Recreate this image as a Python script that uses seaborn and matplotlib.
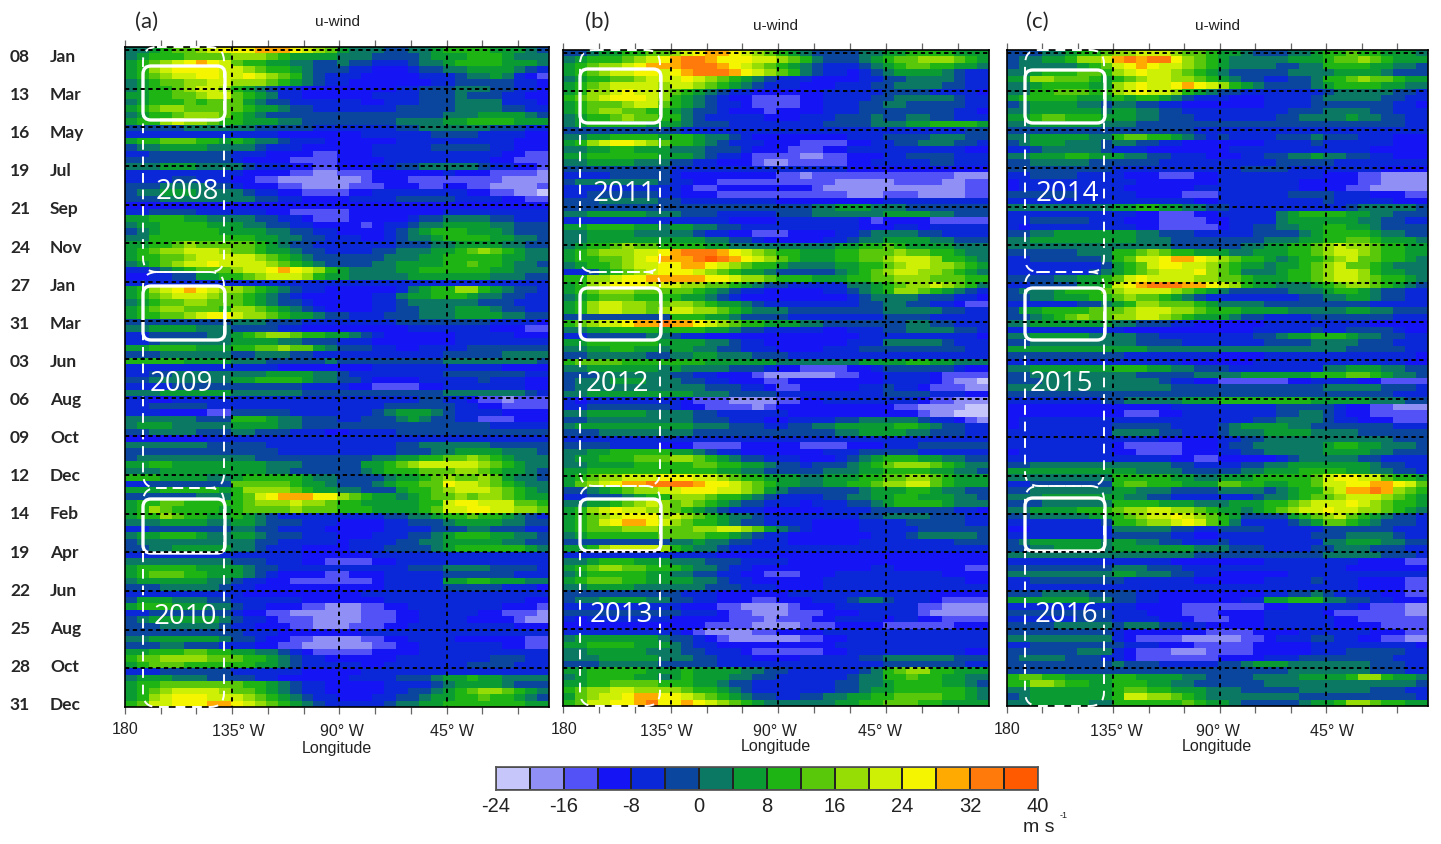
#!/usr/bin/env python3
"""Time-longitude u-wind sections for 2008-2016, three panels and a shared colour bar."""
import matplotlib

matplotlib.use("Agg")
import matplotlib.pyplot as plt  # noqa: E402
import numpy as np  # noqa: E402
import seaborn as sns  # noqa: E402
from matplotlib.colors import ListedColormap  # noqa: E402
from matplotlib.patches import FancyBboxPatch  # noqa: E402

W, H = 1441, 844

DAYS = ["08", "13", "16", "19", "21", "24", "27", "31", "03", "06", "09", "12",
        "14", "19", "22", "25", "28", "31"]
MONTHS = ["Jan", "Mar", "May", "Jul", "Sep", "Nov", "Jan", "Mar", "Jun", "Aug", "Oct", "Dec",
          "Feb", "Apr", "Jun", "Aug", "Oct", "Dec"]
LEVELS = [-24, -16, -8, 0, 8, 16, 24, 32, 40]
BAND_COLORS = ["#c6c6fb", "#8f8ff6", "#5252f6", "#1414f4", "#0a28d8", "#0a469e", "#0a7862", "#0a9b32",
               "#1eb414", "#5ac80a", "#96dc05", "#cdf005", "#f5f500", "#ffaa00", "#ff7a0a", "#ff5a00"]

# each character is one 4 m/s colour band (0 = -24..-20, f = 36..40), read row by row
PANEL_A = [
    "667899abc ccdddcba9 766655667 888877765", "678889999 aaa987777 666555567 778887666", "789abcdcb 988776655 655444566 788887776",
    "78abccccb ba9887655 544333455 667777654", "789abbccb bcba98654 443333344 456676432", "67899aabb aaa987654 433333334 455555443",
    "67889abba 876544333 333334455 566655443", "778899abb 987644333 333444455 565554433", "678889899 976554444 443344455 566664443",
    "789aa9999 987765544 444445555 566665544", "67889aaa9 876555555 555555555 666777765", "788abaa98 877766555 555556666 778888777",
    "555556666 665555544 444445566 666655544", "444444444 444433333 334444445 555444433", "788999887 876654443 333334444 444444333",
    "566777766 665444333 333444445 555544333", "445555555 444333322 333444444 444443322", "555555555 433332222 333344444 444433222",
    "666777666 654443322 333445566 666544332", "444444444 433332211 222333333 433322221", "444455444 332211111 112333222 222221111",
    "555666655 433322111 122233322 332211112", "566777666 654433222 233444444 443322110", "555666666 665544333 344445555 544443322",
    "333333333 333333333 333333333 333333333", "445555444 444332222 233333333 444444444", "778887766 665544322 233333455 666655444",
    "677888877 766554433 332344566 777766555", "567888887 777665544 333345678 887776555", "668888888 887766554 443345667 888877665",
    "77889a999 998765544 444445556 677776655", "789aabbba 998776554 444556667 789a98766", "78899abbb bba987655 555566677 888887766",
    "6789abbcb bbba98765 555667777 889887665", "445678999 abbcdcba8 766667788 888877666", "334455778 89abbba87 766666777 777766655",
    "444444444 444444444 444444444 444444444", "78abcdcba a98765443 333334678 8aa876554", "789abbba9 987654333 333446778 887665544",
    "67899aa99 987655433 333445666 666555444", "789aa9998 aa9876543 333445566 677765544", "78899abcc baa987765 544455566 677776655",
    "555555555 666555444 444445555 555544443", "667777666 555544333 333333444 444433322", "445555566 789aa9887 765433333 344444333",
    "445666666 777766555 444333333 344444444", "778888777 8899a9976 555443344 445555555", "555666666 556665544 444444444 555556666",
    "888887777 666555556 555555555 666666665", "444444444 444433333 333444444 444443333", "445566666 666777766 544444444 555555544",
    "556666666 778888766 554333344 444544433", "444455555 555555444 433222233 444444433", "666777777 666666555 555555555 666666654",
    "443344444 444444444 444444455 443221222", "445555544 444444444 444455555 544332222", "444333322 555554444 444567776 544443333",
    "666666555 888766555 445556765 544222333", "677766666 777766555 555555555 555544444", "556666555 665554443 344445555 555555555",
    "333333344 444444444 444444444 444444444", "666666655 555444444 444445566 666655555", "555555555 555544444 444445556 677776665",
    "566666666 665555555 555667788 99a987666", "778877777 777666555 557789abb bbba98766", "666777777 777665555 556788899 9aa987765",
    "888777766 788888766 555567789 a99a97665", "445555555 999998776 555678899 cbba98766", "777888887 8aaaa9877 665557889 abbba9876",
    "555555666 89bcdddcc a98776789 9a9aa9877", "788998888 89aaabaa9 887777788 bccbbb998", "78a988887 89999a999 888777789 bbccbbaa9",
    "788a98877 876544444 444455667 889887654", "666777766 776555444 333344555 677776655", "445555555 665544443 333344445 556655544",
    "677888766 776555444 333444556 788877665", "566666666 665544444 344445566 777776655", "556677777 665444333 344455556 788888876",
    "444444444 444444333 333444444 444444444", "666666666 555444332 222334444 444444444", "788888777 765544444 444444555 666655554",
    "789998877 765433332 233344444 555555444", "677777766 544332222 222344444 778877766", "555666665 443333333 333344444 555554443",
    "444444444 433333333 334444444 444444444", "577766655 444444333 333344444 444444433", "788877766 544333221 112233444 444443332",
    "445555555 433221111 112223344 444332221", "567777776 544322211 112223344 443333211", "555666665 443332211 122233444 444444333",
    "555555555 544433333 334444444 444444444", "667777776 554332211 112233444 433333322", "555665554 443322111 111223344 444443322",
    "778889988 776654322 222333344 444444444", "899aaaa99 988765443 333334444 444455544", "789998888 887765444 443344444 445555444",
    "444555555 444444333 334444444 444444444", "677766655 554433333 344445556 778776666", "788999999 988765443 333344445 677776555",
    "789abbbba 998765443 333344556 789aa9876", "78abcccbb ba9876544 333445567 788988765", "89bbcccdd cba987654 444456677 888888877",
]
PANEL_B = [
    "556778899 abcddcba9 876555566 778888777", "678889abc deedcccbb a98655567 899aaa987", "789aabcdd deeedcba9 876544456 789988776",
    "789abbccb cdeeedcba 986544345 677776544", "678899abb bcba98765 444333344 556666544", "789abbbba bba987654 443334445 566665544",
    "78aabcbba 987654433 333344444 555544443", "89abcccba 876543322 223344445 566666544", "78999abb9 876544322 223344455 665555544",
    "789aa9988 765543332 333344455 555555443", "67889a998 865444443 334445556 556655444", "678888877 765554444 444455556 667788887",
    "555555555 544444444 444444444 444444455", "667788887 887665433 333333444 555566655", "78abccba9 887654443 332222334 455666554",
    "667788777 666555433 322233444 444444433", "778888887 776544322 221122333 445555444", "667777666 554433321 122222334 444455444",
    "555555555 444444444 444444333 333333333", "444455555 433333333 221222222 222222111", "566666665 443322222 222221111 122221122",
    "444444444 432233333 333211111 111111122", "445555554 433322222 222222111 222111122", "555666665 544444444 333333333 444444444",
    "555555555 555555555 555667776 665555555", "667777766 655544444 555666666 777766555", "444444444 444443333 444444432 333322222",
    "778888776 776655444 444444433 344344444", "667777666 665443322 233334456 666554444", "667777777 777665543 333344566 777766555",
    "67889a998 888776666 666667788 987777666", "789aaabbc deeedcba9 887778899 9a9988766", "78899abcd ddefedcba 987778899 abbba8876",
    "67889abbc cddcba988 766667788 9abbaa987", "445789abc ccba98776 555556789 abbaa9876", "88aabccdd dddccbaa9 888777889 9aaa99988",
    "78abcccbb baa998765 544444667 89aaba986", "789aaa999 998765443 333344567 8aa987654", "678999888 877654333 333333456 666555443",
    "78abbaa99 aa9877654 444444455 665544322", "78abbaa9a bbaa98766 655555555 666665544", "555555555 888776555 544444444 555544444",
    "89abbcdde ddcba9887 776655555 556655444", "667788887 888776554 444433444 556666554", "445555566 544333333 333333344 444444443",
    "778888887 777665443 333333444 666665444", "667788776 776655444 333344455 555555544", "556666655 667766655 544444444 444444444",
    "899998888 888777777 666666677 778877666", "667777776 766665554 332222334 555555433", "555666666 554433321 111112233 444432222",
    "566677766 655443332 233333333 444432110", "566666666 666555443 223333344 544322211", "667777777 776665555 444444444 555544433",
    "434444444 432221111 223344444 444322111", "445555555 433222212 333333333 322111100", "667777766 665544444 433333333 333211000",
    "556666666 665554443 344445566 666544321", "677777777 776665554 455667777 788765544", "555666666 665555555 555556677 776655544",
    "444444444 444444444 444444444 444444444", "555544443 332222333 332222333 444555555", "667788888 776544333 333344455 555444444",
    "677888999 aa9876554 443334567 888776655", "667777888 889988776 554555678 9aaa98766", "778888888 888877665 555566677 888877665",
    "789aabbbc ccbba9887 776677788 99aa98777", "79abcddee eedccba98 776677889 aabb98777", "556789aab bcccbba97 655555567 778876655",
    "445556788 aaa988765 444455667 788777665", "667789aba 9a9876554 443444556 788887666", "78abcbbaa 987654443 333344445 555555443",
    "789abccca ba9876654 444444455 666655544", "789bcddcb a98876554 444333344 445555544", "78999aaa9 99aabba97 654333344 444555555",
    "678888889 999887654 433333334 445666665", "555555555 667665544 433333344 444444555", "778abbbba 876654444 444444444 444444444",
    "444444444 444433333 333333333 333333333", "667888777 666555444 433333333 333333333", "789aa9988 876654433 333333334 433333322",
    "678888877 665544332 223334444 444443333", "789998877 776654433 333344444 444444433", "667777666 666555444 333344444 444444444",
    "555555555 544433333 344444444 444433333", "566777766 554433322 333444566 544432222", "444444444 433322111 123334444 444221111",
    "555555555 544432211 122233344 444211111", "434444444 333332221 222334444 344332222", "333333333 333222211 112223333 222222333",
    "444444444 432111122 333344444 444444444", "677777776 554321111 112233444 444444444", "778888777 654433333 333334444 444444444",
    "667777766 655444322 222233444 444444433", "666777776 665544433 334444455 666666555", "555666665 555544444 444444444 555555544",
    "778888877 787777665 544444456 89aa88777", "678888776 787776655 444444566 889887766", "778899998 887765544 444445566 788887765",
    "89aabbaaa a98876544 444445567 788888876", "79abbcddc cba987655 445566778 899998876", "89bbccdec cdcba9876 666667788 999887777",
]
PANEL_C = [
    "555667889 aabbba998 776555667 889887776", "566778aab dedeeca98 766666777 899a98777", "566666789 bcdcbba98 766665566 888877665",
    "667888998 abcbba987 655555666 677776555", "77aa99987 89abbaa98 765544556 889a99877", "667888877 abcbbcdcb a87655556 788887766",
    "668899988 abcbba876 554444444 566666554", "788888777 878876544 433344445 666665544", "567777665 665544333 333344445 555555443",
    "667777776 776655444 444444555 666655444", "778998887 776655544 444445566 667665544", "667777776 665555555 555555555 555555544",
    "555555555 555555544 444444444 444444444", "667777766 899887654 544445556 555444333", "567776665 665544333 333344445 444444333",
    "445666665 444333333 344444444 444433333", "667778877 766554443 334455667 665544333", "556666655 555544444 444445555 544444444",
    "555555555 444444444 445555444 444443333", "445555444 433322233 444444444 333221111", "344444444 443333333 444444433 333221111",
    "344444444 433333344 444444433 332211111", "555555444 443333222 444444555 544433322", "444444444 444444433 444444444 544444333",
    "666666666 778877665 544444444 445666665", "444444444 443322233 444446788 887766555", "445555544 433322223 344446777 777665544",
    "434444444 443322222 344556677 887765555", "556677777 776655544 444555567 888876655", "667777777 776665555 555566677 889987776",
    "666666666 666665555 556677889 abaa98877", "555555666 889a98877 766777889 abba98877", "445555556 89bbcddcb a98876788 9ab998876",
    "444444445 789bccbba 987767789 ab9987666", "444444456 789abbbca 986667889 abba87766", "555566778 9bcbbbbaa 998777889 abba98876",
    "445555778 bcdeeeddc ba8776667 89aa98765", "566678889 abbbba987 655555666 788765544", "556677788 9a9987654 444444455 667765544",
    "444444556 78aa99987 666655555 555544444", "577888899 9abbbaa98 887777666 667766555", "556789a99 aabba9877 765544445 555555444",
    "667777777 665554433 333344444 444433333", "444444444 433333333 333444445 445555433", "667777766 665544444 444556778 887665544",
    "556666666 665555444 444455556 666555444", "777777777 777666666 666666666 665555544", "555555555 544444444 333344444 444444443",
    "444444444 444444333 333444444 444444433", "667777777 888776655 544444444 667776655", "556666666 665555566 667777778 889987665",
    "555666666 666654433 222222334 444332222", "666666666 666665555 555555555 666665554", "555555555 555555555 555555555 555555444",
    "444444445 566666777 888888887 777766655", "333333333 333334444 444445555 543322111", "333333333 322233444 444445566 543322222",
    "344444444 444444444 444556666 544333222", "344444444 555554444 567777665 555555444", "444444444 666655444 566677776 666555555",
    "444444444 444433333 445566666 666666555", "444444444 322222333 455666666 788776665", "344444444 332222333 445566666 777766555",
    "444444444 444443322 333334566 666554444", "556666666 666665544 445566777 777765544", "777777777 776666555 556677788 887766554",
    "666666666 888887766 777888889 bccbb9887", "445555555 899888777 998877889 bbccddcb9", "556666666 776665555 666656788 abddeda98",
    "666777777 766554444 444566789 9abbba987", "555666666 888877766 6777889ab bbcba9887", "667777888 9aabbaa98 776789abb cbbaa9876",
    "556666677 89abbcba9 875555789 ab9876554", "444444445 889aabcb9 864444567 998765554", "334444444 666665544 555544444 555555444",
    "444444444 555554433 444444445 556666544", "567777776 776655444 544444444 667776655", "556677776 777777766 655544445 566655544",
    "666666666 666666655 555555555 666665554", "444444444 444443333 333344444 444333322", "555555555 666555444 444444444 443333333",
    "666666666 776665544 333333444 444444444", "445555555 544444433 333344445 444333322", "444444444 444444444 444444444 444333322",
    "555666655 554433333 333344556 544443322", "777777766 554433333 334477888 665544333", "444444444 443333222 222233444 444322211",
    "555555555 444333222 333344444 322222211", "444444555 444433322 233344444 433222222", "555566666 566655443 333344444 433332222",
    "555555555 433333332 222333344 444433322", "666666666 432222111 112234445 544332211", "445555555 544433322 222333334 444444443",
    "555555666 432221112 222333334 445555544", "566665554 432222222 333344455 555555444", "555555555 655544444 556777666 666655544",
    "555555555 555555555 555555666 666655544", "899887777 887777665 555666677 778aa8776", "88aa98877 888776655 555566666 666666665",
    "667777777 899887776 665555566 666655544", "567777777 8bbaa9876 666666655 555555554", "667777766 888888987 765555567 78aa98877",
]

PANELS = [
    {"grid": PANEL_A, "box": (125, 47, 549, 707), "letter": ("(a)", 147, 22), "wind": (337, 22),
     "ticks": [(125, 729), (238, 732), (342, 732), (452, 732)], "lon_label": (337, 749), "line_top": 50,
     "frame_x": (143, 224), "frames": [(47, 272), (272, 488), (488, 707)], "solid": [(66, 120), (286, 340), (499, 553)],
     "years": [("2008", 187, 192), ("2009", 181, 384), ("2010", 185, 617)]},
    {"grid": PANEL_B, "box": (563, 50, 989, 706), "letter": ("(b)", 597, 22), "wind": (776, 26),
     "ticks": [(564, 730), (666, 732), (775, 732), (880, 732)], "lon_label": (776, 747), "line_top": 53,
     "frame_x": (580, 660), "frames": [(50, 272), (272, 486), (486, 706)], "solid": [(69, 123), (288, 340), (499, 551)],
     "years": [("2011", 624, 194), ("2012", 617, 384), ("2013", 621, 615)]},
    {"grid": PANEL_C, "box": (1007, 50, 1428, 706), "letter": ("(c)", 1037, 22), "wind": (1217, 26),
     "ticks": [(1007, 729), (1116, 732), (1218, 732), (1332, 732)], "lon_label": (1217, 746), "line_top": 53,
     "frame_x": (1025, 1104), "frames": [(50, 272), (272, 486), (486, 706)], "solid": [(70, 123), (288, 340), (498, 551)],
     "years": [("2014", 1067, 194), ("2015", 1061, 384), ("2016", 1066, 615)]},
]
TICK_TEXT = ["180", "135° W", "90° W", "45° W"]
LON_SPAN = 178.0
N_LINES = 18
NCOLS = 36
CMAP = ListedColormap(BAND_COLORS)


def decode(rows):
    codes = []
    for r in rows:
        r = r.replace(" ", "")
        codes.append([int(c, 16) for c in r.ljust(NCOLS, r[-1])[:NCOLS]])
    return -22 + 4 * np.array(codes, dtype=float)


def pixel_axes(fig, left, top, right, bottom):
    return fig.add_axes([left / W, 1 - bottom / H, (right - left) / W, (bottom - top) / H])


def draw_panel(fig, over, cfg):
    left, top, right, bottom = cfg["box"]
    ax = pixel_axes(fig, left, top, right, bottom)
    data = decode(cfg["grid"])
    sns.heatmap(data, cmap=CMAP, vmin=-24, vmax=40, cbar=False, ax=ax,
                xticklabels=False, yticklabels=False)
    ax.set_xticks(np.arange(0, LON_SPAN, 15) / LON_SPAN * NCOLS)
    ax.set_yticks([])
    ax.tick_params(axis="x", top=True, bottom=True, labelbottom=False, length=5,
                   width=0.9, color="#666666", direction="out")
    for sp in ax.spines.values():
        sp.set_visible(True)
        sp.set_color("black")
        sp.set_linewidth(1.2)
    for lon in (45, 90, 135):
        xp = left + lon / LON_SPAN * (right - left)
        over.plot([xp, xp], [top, bottom], color="black", lw=1.4, ls=(0, (2.2, 2.2)))
    step = (bottom - cfg["line_top"]) / (N_LINES - 1)
    for k in range(N_LINES - 1):
        yp = cfg["line_top"] + k * step
        over.plot([left, right], [yp, yp], color="black", lw=1.4, ls=(0, (2.2, 1.8)))

    x0, x1 = cfg["frame_x"]
    for y0, y1 in cfg["frames"]:
        over.add_patch(FancyBboxPatch((x0, y0), x1 - x0, y1 - y0, boxstyle="round,pad=0,rounding_size=14",
                                      fc="none", ec="white", lw=1.4, ls=(0, (5, 3.5))))
    for y0, y1 in cfg["solid"]:
        over.add_patch(FancyBboxPatch((x0, y0), x1 - x0 + 1, y1 - y0, boxstyle="round,pad=0,rounding_size=8",
                                      fc="none", ec="white", lw=2.4))
    for label, xp, yp in cfg["years"]:
        over.text(xp, yp, label, color="white", fontsize=20, family="Open Sans", ha="center", va="center")

    label, xp, yp = cfg["letter"]
    over.text(xp, yp, label, fontsize=16, family="Lato", ha="center", va="center")
    over.text(*cfg["wind"], "u-wind", fontsize=11, family="Liberation Sans", ha="center", va="center", color="#222222")
    for (xp, yp), txt in zip(cfg["ticks"], TICK_TEXT):
        over.text(xp, yp, txt, fontsize=11.5, family="Liberation Sans", ha="center", va="center", color="#222222")
    over.text(*cfg["lon_label"], "Longitude", fontsize=11.5, family="Liberation Sans", ha="center", va="center", color="#222222")


def main():
    sns.set_theme(style="white")
    fig = plt.figure(figsize=(W / 100, H / 100), dpi=100, facecolor="white")
    over = fig.add_axes([0, 0, 1, 1], zorder=10)
    over.set_xlim(0, W)
    over.set_ylim(H, 0)
    over.axis("off")

    for cfg in PANELS:
        draw_panel(fig, over, cfg)

    label_step = (705 - 57) / (len(DAYS) - 1)
    for k, (day, month) in enumerate(zip(DAYS, MONTHS)):
        yp = 57 + k * label_step
        over.text(20, yp, day, fontsize=12.5, fontweight="bold", family="Lato", ha="center", va="center")
        over.text(50, yp, month, fontsize=12.5, fontweight="bold", family="Lato", ha="left", va="center")

    cax = pixel_axes(fig, 496, 767, 1038, 790)
    bands = -22 + 4 * np.arange(len(BAND_COLORS), dtype=float)
    sns.heatmap(bands.reshape(1, -1), cmap=CMAP, vmin=-24, vmax=40, cbar=False, ax=cax,
                linewidths=1.2, linecolor="#222222", yticklabels=False)
    cax.set_xticks(np.arange(len(LEVELS)) * 2)
    cax.set_xticklabels(LEVELS, rotation=0, fontsize=14.5, family="Liberation Sans", color="#222222")
    cax.tick_params(axis="x", length=0, pad=5)
    cax.set_yticks([])
    for sp in cax.spines.values():
        sp.set_visible(True)
        sp.set_color("#555555")
    over.text(1039, 827, "m s", fontsize=14, family="Liberation Sans", ha="center", va="center", color="#222222")
    over.text(1064, 816, "-1", fontsize=6.5, family="Liberation Sans", ha="center", va="center", color="#222222")

    fig.savefig("out.png", dpi=100)
    plt.close(fig)


if __name__ == "__main__":
    main()
